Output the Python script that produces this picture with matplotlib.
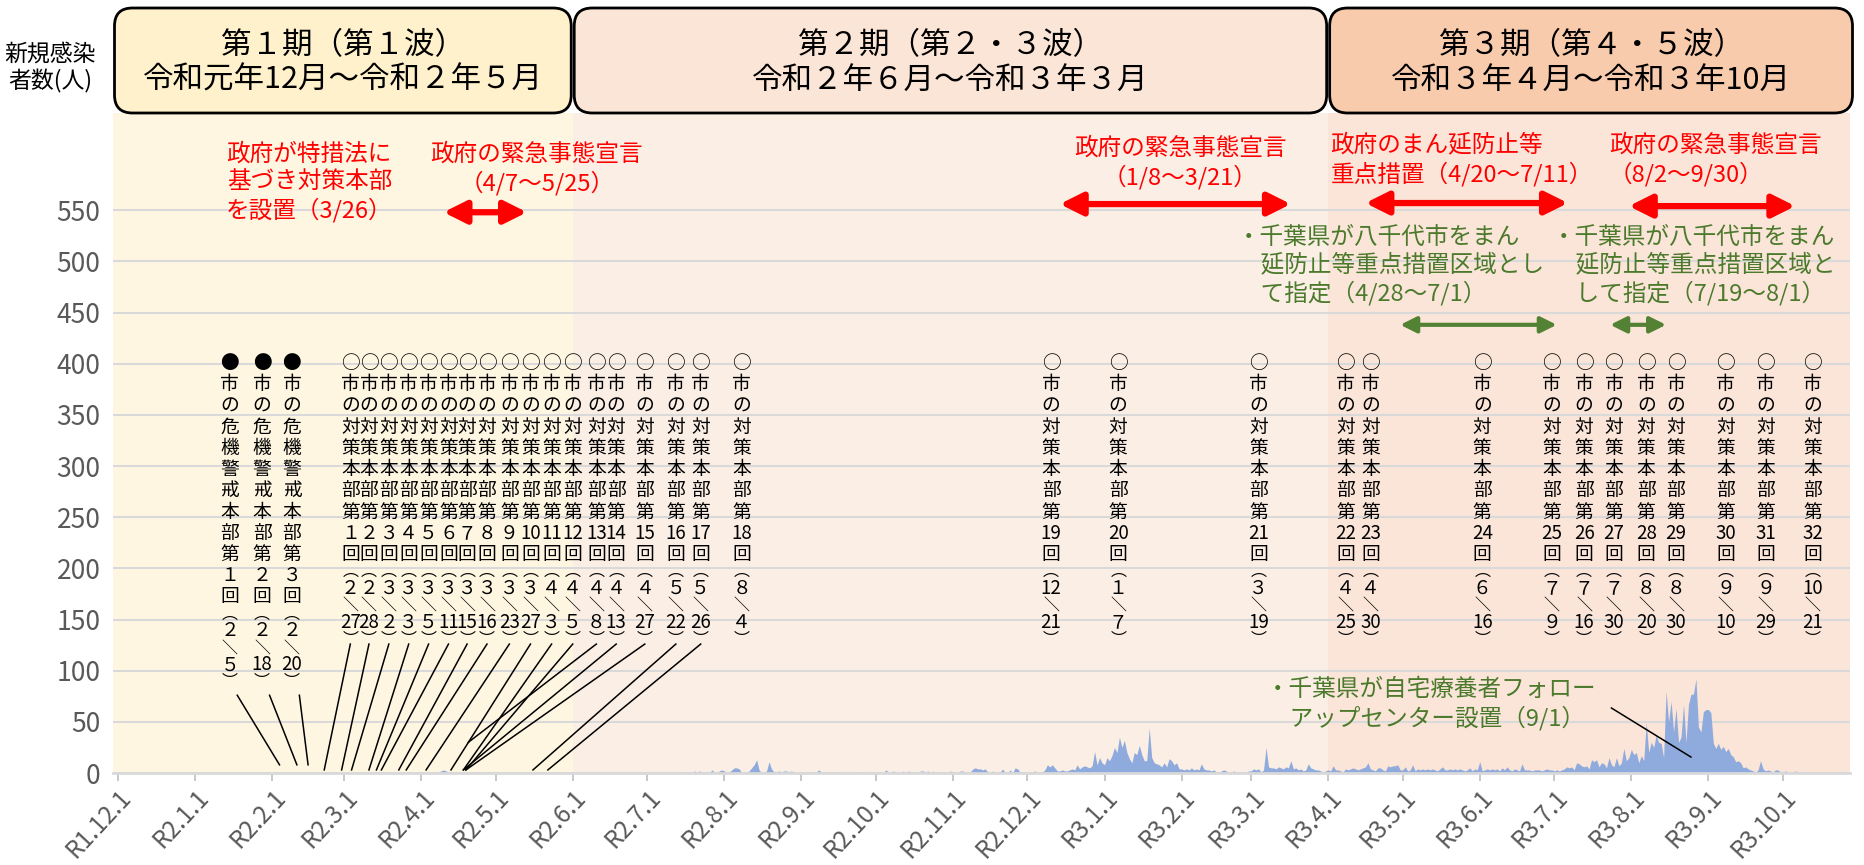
import numpy as np
import pandas as pd
import matplotlib
matplotlib.use('Agg')
import matplotlib.pyplot as plt
from matplotlib.patches import FancyBboxPatch
from matplotlib.transforms import IdentityTransform
from matplotlib import font_manager

plt.rcParams['font.family'] = ['Noto Sans CJK JP', 'DejaVu Sans']

# daily new cases, one list per month (R1.12 .. R3.10)
dec19 = [0] * 31
jan20 = [0] * 31
feb20 = [0] * 29
mar20 = [0] * 31
apr20 = [0, 0, 0, 0, 0, 0, 0, 1, 2, 3, 2, 1, 1, 0, 0, 0, 0, 0, 0, 0, 0, 0, 1, 1, 0, 1, 0, 1, 0, 0]
may20 = [1, 0, 0, 0, 0, 0, 0, 0, 0, 0, 0, 0, 0, 0, 0, 0, 0, 0, 0, 0, 0, 0, 0, 0, 0, 0, 0, 0, 0, 0, 0]
jun20 = [0] * 30
jul20 = [0, 0, 0, 0, 0, 0, 0, 0, 0, 0, 0, 0, 0, 0, 0, 1, 0, 0, 0, 2, 1, 2, 1, 0, 0, 0, 3, 1, 0, 2, 3]
aug20 = [2, 0, 1, 3, 5, 5, 4, 0, 0, 0, 2, 5, 8, 13, 3, 0, 0, 2, 11, 4, 1, 1, 2, 1, 2, 2, 1, 2, 1, 0, 0]
sep20 = [0, 0, 0, 0, 0, 0, 1, 3, 1, 0, 0, 1, 1, 0, 0, 0, 0, 0, 0, 0, 0, 0, 0, 1, 0, 0, 0, 0, 0, 0]
oct20 = [0, 1, 0, 0, 3, 1, 0, 2, 1, 0, 0, 2, 0, 2, 1, 0, 0, 0, 2, 2, 1, 2, 0, 2, 0, 0, 0, 1, 0, 0, 2]
nov20 = [1, 0, 0, 2, 2, 0, 0, 1, 4, 5, 4, 4, 3, 4, 1, 0, 2, 0, 0, 1, 4, 0, 0, 3, 0, 5, 4, 1, 0, 0]
dec20 = [0, 1, 1, 2, 1, 0, 1, 3, 8, 6, 8, 5, 2, 2, 3, 2, 2, 3, 4, 3, 8, 4, 6, 7, 6, 5, 7, 21, 8, 15, 10]
jan21 = [8, 15, 12, 17, 25, 20, 35, 25, 32, 20, 14, 10, 20, 18, 27, 18, 12, 12, 44, 15, 10, 9, 8, 6, 10, 6, 14, 12, 8, 10, 4]
feb21 = [4, 3, 4, 3, 5, 3, 4, 3, 9, 4, 3, 3, 2, 3, 1, 0, 2, 3, 2, 0, 1, 2, 1, 1, 0, 0, 1, 2]
mar21 = [2, 4, 3, 4, 1, 3, 25, 6, 5, 5, 4, 6, 5, 4, 6, 5, 12, 4, 5, 3, 4, 2, 3, 9, 5, 4, 3, 3, 2, 1, 2]
apr21 = [3, 2, 7, 3, 3, 2, 1, 4, 3, 4, 5, 4, 3, 4, 5, 6, 10, 4, 3, 2, 5, 5, 3, 2, 7, 6, 7, 7, 8, 3]
may21 = [3, 6, 2, 3, 8, 2, 4, 3, 4, 3, 4, 3, 4, 3, 2, 4, 6, 3, 3, 4, 3, 4, 3, 4, 3, 2, 3, 5, 2, 4, 3]
jun21 = [11, 2, 3, 4, 3, 4, 3, 4, 2, 5, 3, 6, 3, 2, 4, 3, 2, 9, 3, 3, 3, 2, 3, 3, 3, 2, 3, 4, 3, 3]
jul21 = [2, 3, 2, 3, 4, 6, 5, 6, 3, 10, 9, 7, 6, 7, 4, 13, 11, 13, 6, 10, 9, 5, 15, 8, 6, 15, 7, 10, 24, 12, 15]
aug21 = [23, 18, 20, 10, 17, 12, 49, 20, 30, 25, 37, 30, 29, 15, 80, 50, 70, 40, 63, 30, 35, 67, 30, 67, 77, 77, 92, 45, 40, 60, 62]
sep21 = [62, 59, 29, 24, 29, 23, 26, 21, 24, 18, 16, 11, 12, 10, 5, 6, 4, 3, 2, 1, 3, 12, 4, 2, 3, 2, 1, 3, 3, 1]
oct21 = [1, 2, 1, 0, 1, 2, 1, 0, 1, 0, 0, 0, 1, 0, 0, 0, 0, 0, 0, 0, 0, 0, 0, 0, 0, 0, 0, 0]

tick_labels = ['R1.12.1', 'R2.1.1', 'R2.2.1', 'R2.3.1', 'R2.4.1', 'R2.5.1', 'R2.6.1',
               'R2.7.1', 'R2.8.1', 'R2.9.1', 'R2.10.1', 'R2.11.1', 'R2.12.1',
               'R3.1.1', 'R3.2.1', 'R3.3.1', 'R3.4.1', 'R3.5.1', 'R3.6.1',
               'R3.7.1', 'R3.8.1', 'R3.9.1', 'R3.10.1']

period_start = ['2019-12-01', '2020-06-01', '2021-04-01']
period_titles = ['第１期（第１波）\n令和元年12月～令和２年５月',
                 '第２期（第２・３波）\n令和２年６月～令和３年３月',
                 '第３期（第４・５波）\n令和３年４月～令和３年10月']

# city meetings: (round, month, day)
crisis_meetings = [(1, 2, 5), (2, 2, 18), (3, 2, 20)]
hq_meetings = [(1, 2, 27), (2, 2, 28), (3, 3, 2), (4, 3, 3), (5, 3, 5), (6, 3, 11), (7, 3, 15),
               (8, 3, 16), (9, 3, 23), (10, 3, 27), (11, 4, 3), (12, 4, 5), (13, 4, 8),
               (14, 4, 13), (15, 4, 27), (16, 5, 22), (17, 5, 26), (18, 8, 4), (19, 12, 21),
               (20, 1, 7), (21, 3, 19), (22, 4, 25), (23, 4, 30), (24, 6, 16), (25, 7, 9),
               (26, 7, 16), (27, 7, 30), (28, 8, 20), (29, 8, 30), (30, 9, 10), (31, 9, 29),
               (32, 10, 21)]

cases = (dec19 + jan20 + feb20 + mar20 + apr20 + may20 + jun20 + jul20 + aug20 + sep20 +
         oct20 + nov20 + dec20 + jan21 + feb21 + mar21 + apr21 + may21 + jun21 + jul21 +
         aug21 + sep21 + oct21)
dates = pd.date_range('2019-12-01', periods=len(cases), freq='D')
t0 = dates[0]
days = np.asarray((dates - t0).days)
tick_days = np.asarray((pd.date_range('2019-12-01', '2021-10-01', freq='MS') - t0).days)
p_days = [(pd.Timestamp(s) - t0).days for s in period_start]

# label placement (day index along the axis), as laid out in the original
crisis_x = [45, 58, 70]
crisis_line_end = [65, 72, 76.5]
hq_x = [93.5, 101, 109, 117, 125, 133, 140.5, 148.5, 157.5, 166, 174.5, 183, 192.5, 200.5, 212,
        224.5, 234.5, 251, 375.5, 402.5, 459, 494, 504, 549, 577, 590, 602, 615, 627, 647, 663, 682]
hq_line_end = [83, 90, 94, 101, 104, 106, 113, 116, 124, 134, 139, 140, 141, 139, 140, 167, 173]

W, H = 1864, 865
fig = plt.figure(figsize=(W / 100, H / 100), dpi=100)
ax = fig.add_axes([113 / W, 92 / H, 1737 / W, 660 / H])
ax.set_xlim(-2, 697)
ax.set_ylim(0, 645)

shade = ['#FFF6E2', '#FBEEE5', '#FAE5D8']
box_col = ['#FFF1CC', '#FBE5D7', '#F8CBAD']
edges = [-2] + p_days[1:] + [697]
for i in range(3):
    ax.axvspan(edges[i], edges[i + 1], color=shade[i], lw=0, zorder=0)

ax.fill_between(days, cases, 0, color='#8FAADC', lw=0, zorder=2)

ax.set_yticks(range(0, 551, 50))
ax.yaxis.grid(True, color='#D9D9D9', lw=1.5)
ax.set_axisbelow(True)
ax.tick_params(axis='y', length=0, labelsize=19, labelcolor='#595959', pad=9)
ax.set_xticks(tick_days)
ax.set_xticklabels(tick_labels, rotation=47, ha='right', va='top', rotation_mode='anchor')
ax.tick_params(axis='x', length=6, width=1.2, color='#BFBFBF', labelsize=17.5,
               labelcolor='#595959', pad=2)
for s in ['left', 'right', 'top']:
    ax.spines[s].set_visible(False)
ax.spines['bottom'].set_color('#D9D9D9')
ax.spines['bottom'].set_linewidth(2)

# header boxes above the plot
for i in range(3):
    x0 = ax.transData.transform((edges[i], 0))[0] + 1.5
    x1 = ax.transData.transform((edges[i + 1], 0))[0] - 1.5
    if i == 2:
        x1 += 4
    box = FancyBboxPatch((x0, H - 113), x1 - x0, 105,
                         boxstyle='round,pad=0,rounding_size=18',
                         transform=IdentityTransform(), fc=box_col[i], ec='black', lw=2)
    fig.add_artist(box)
    fig.text((x0 + x1) / 2 / W, (H - 63) / H, period_titles[i], ha='center', va='center',
             fontsize=22, linespacing=1.15)

fig.text(50 / W, (H - 68) / H, '新規感染\n者数(人)', ha='center', va='center',
         fontsize=16.5, linespacing=1.2)

# vertical (tategaki) labels, one glyph row at a time
names = {f.name for f in font_manager.fontManager.ttflist}
narrow = ['Liberation Sans Narrow'] if 'Liberation Sans Narrow' in names else ['Noto Sans CJK JP']
cjk = ['Noto Sans CJK JP', 'DejaVu Sans']


def zen(n):
    s = str(n)
    return chr(ord(s) + 0xFEE0) if len(s) == 1 else s


def vlabel(x, head, body, n, m, d):
    rows = [head, '市', 'の'] + list(body) + ['第', zen(n), '回']
    tail = ['︵', zen(m), '＼', zen(d), '︶']
    off = 0.0
    for k, r in enumerate(rows + tail):
        if k > 0:
            off += 21.2 if k < len(rows) else 17
        fam = narrow if len(r) == 2 else cjk
        size = 11.5 if r in ('︵', '＼', '︶') else 13.5
        ax.annotate(r, xy=(x, 400), xytext=(0, -off * 0.72), textcoords='offset points',
                    ha='center', va='center', fontsize=size, family=fam, zorder=4)


for (n, m, d), x, xe in zip(crisis_meetings, crisis_x, crisis_line_end):
    vlabel(x, '●', '危機警戒本部', n, m, d)
    ax.plot([x + 3, xe], [76, 8], color='black', lw=1.1, zorder=3)

for k, ((n, m, d), x) in enumerate(zip(hq_meetings, hq_x)):
    vlabel(x, '○', '対策本部', n, m, d)
    if k < len(hq_line_end):
        ye = 30 if k == 12 else 3
        ax.plot([x, hq_line_end[k]], [126, ye], color='black', lw=1.1, zorder=3)

red = '#FF0000'
green = '#4C7A2C'
ax.text(77, 616, '政府が特措法に\n基づき対策本部\nを設置（3/26）', color=red, fontsize=17,
        ha='center', va='top', linespacing=1.25)
ax.text(168.6, 616, '政府の緊急事態宣言\n（4/7～5/25）', color=red, fontsize=17,
        ha='center', va='top', linespacing=1.25)
ax.text(427.5, 622, '政府の緊急事態宣言\n（1/8～3/21）', color=red, fontsize=17,
        ha='center', va='top', linespacing=1.25)
ax.text(488, 625, '政府のまん延防止等\n重点措置（4/20～7/11）', color=red, fontsize=17,
        ha='left', va='top', linespacing=1.25)
ax.text(600, 625, '政府の緊急事態宣言\n（8/2～9/30）', color=red, fontsize=17,
        ha='left', va='top', linespacing=1.25)
ax.text(450.3, 535, '・千葉県が八千代市をまん\n　延防止等重点措置区域とし\n　て指定（4/28～7/1）',
        color=green, fontsize=17, ha='left', va='top', linespacing=1.25)
ax.text(577, 535, '・千葉県が八千代市をまん\n　延防止等重点措置区域と\n　して指定（7/19～8/1）',
        color=green, fontsize=17, ha='left', va='top', linespacing=1.25)
ax.text(462, 93, '・千葉県が自宅療養者フォロー\n　アップセンター設置（9/1）',
        color=green, fontsize=17, ha='left', va='top', linespacing=1.25, zorder=4)
ax.plot([601, 633], [63.5, 15.6], color='black', lw=1.1, zorder=3)

red_arrows = [(131, 164.6, 548), (379, 472, 556), (502, 583.5, 557), (608, 675, 554)]
green_arrows = [(516, 579, 438), (600.5, 623, 438)]
for a, b, y in red_arrows:
    ax.annotate('', xy=(b, y), xytext=(a, y),
                arrowprops=dict(arrowstyle='<|-|>', color=red, lw=4.5, mutation_scale=34,
                                shrinkA=0, shrinkB=0))
for a, b, y in green_arrows:
    ax.annotate('', xy=(b, y), xytext=(a, y),
                arrowprops=dict(arrowstyle='<|-|>', color='#548235', lw=3, mutation_scale=24,
                                shrinkA=0, shrinkB=0))

fig.savefig('out.png', dpi=100, facecolor='white')
